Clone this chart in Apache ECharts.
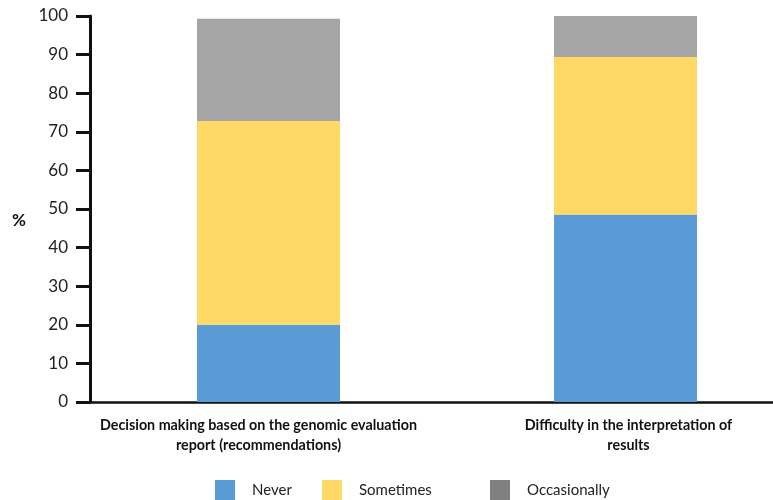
<!DOCTYPE html>
<html>
<head>
<meta charset="utf-8">
<script src="https://cdn.jsdelivr.net/npm/echarts@6/dist/echarts.min.js"></script>
<style>html,body{margin:0;padding:0;background:#fff}#c{width:773px;height:500px}</style>
</head>
<body>
<div id="c"></div>
<script>
var categories = ["Decision making based on the genomic evaluation\nreport (recommendations)", "Difficulty in the interpretation of\nresults"];
var never = [20, 48.6];
var sometimes = [52.8, 40.8];
var occasionally = [26.5, 11.2];
var yTicks = [0, 10, 20, 30, 40, 50, 60, 70, 80, 90, 100];

var chart = echarts.init(document.getElementById('c'), null, {renderer: 'canvas'});
var font = 'Lato, "Open Sans", sans-serif';
function leg(name, left, color) {
  return {
    left: left, top: 475, itemWidth: 20, itemHeight: 20, itemGap: 10,
    icon: 'rect', selectedMode: false,
    textStyle: {fontFamily: font, fontSize: 15, color: '#222', padding: [0, 0, 0, 12]},
    data: [{name: name, itemStyle: {color: color}}]
  };
}
var catPads = [[0, 20, 0, 0], [0, 0, 0, 6]];
chart.setOption({
  animation: false,
  grid: {left: 90, width: 714, top: 16, bottom: 98, containLabel: false, outerBoundsMode: 'none'},
  legend: [leg('Never', 210, '#5B9BD5'), leg('Sometimes', 317, '#FFD966'), leg('Occasionally', 485, '#808080')],
  graphic: [{type: 'text', left: 12, top: 212, style: {text: '%', font: 'bold 17px ' + font, fill: '#111'}}],
  xAxis: {
    type: 'category',
    data: categories.map(function (c, i) { return {value: c, textStyle: {padding: catPads[i]}}; }),
    axisLine: {lineStyle: {color: '#111', width: 2.5}},
    axisTick: {show: false},
    axisLabel: {interval: 0, fontFamily: font, fontWeight: 'bold', fontSize: 14.3, color: '#111', lineHeight: 20, margin: 13}
  },
  yAxis: {
    type: 'value', min: yTicks[0], max: yTicks[yTicks.length - 1], interval: 10,
    axisLine: {show: true, lineStyle: {color: '#111', width: 3}},
    axisTick: {show: true, length: 14, lineStyle: {color: '#111', width: 3}},
    splitLine: {show: false},
    axisLabel: {fontFamily: font, fontSize: 17, color: '#222', margin: 22}
  },
  series: [
    {name: 'Never', type: 'bar', stack: 's', data: never, barWidth: 143, itemStyle: {color: '#5B9BD5'}},
    {name: 'Sometimes', type: 'bar', stack: 's', data: sometimes, barWidth: 143, itemStyle: {color: '#FFD966'}},
    {name: 'Occasionally', type: 'bar', stack: 's', data: occasionally, barWidth: 143, itemStyle: {color: '#A5A5A5'}}
  ]
});
</script>
</body>
</html>
